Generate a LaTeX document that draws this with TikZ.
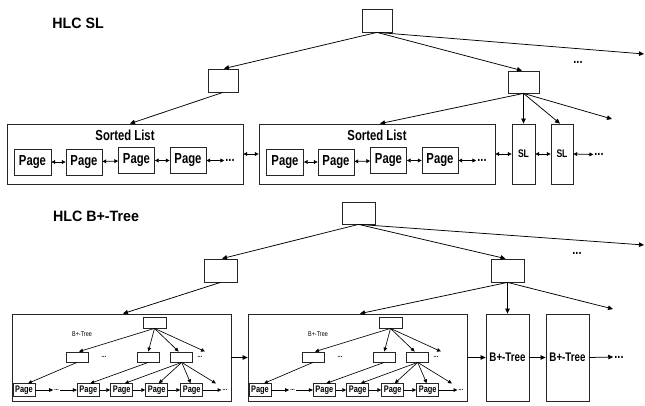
\documentclass[tikz,border=0pt]{standalone}
\usepackage{fontspec}
\setmainfont{Liberation Sans}
\newfontfamily\narf{Liberation Sans}[FakeStretch=0.78]
\newfontfamily\ttlf{Liberation Sans}[FakeStretch=0.95]
\usetikzlibrary{arrows.meta}
\tikzset{
  box/.style={draw=black!85, line width=0.8pt, inner sep=0pt, rectangle},
  bx/.style 2 args={box, minimum width=#1pt, minimum height=#2pt},
  conn/.style={line width=0.75pt, -{Triangle[length=5pt,width=4.5pt]}},
  dbl/.style={line width=0.75pt, {Triangle[length=3.8pt,width=3.8pt]}-{Triangle[length=3.8pt,width=3.8pt]}},
  sconn/.style={line width=0.65pt, -{Triangle[length=4pt,width=3.5pt]}},
  ttl/.style={inner sep=0pt, font=\ttlf\bfseries\fontsize{15}{15}\selectfont},
  lbl/.style={inner sep=0pt, font=\narf\bfseries\fontsize{14.5}{14.5}\selectfont},
  pagef/.style={font=\narf\bfseries\fontsize{14.5}{14.5}\selectfont},
  slf/.style={font=\narf\bfseries\fontsize{11}{11}\selectfont},
  btf/.style={font=\narf\bfseries\fontsize{12.5}{12.5}\selectfont},
  bdots/.style={inner sep=1pt, font=\narf\bfseries\fontsize{14}{14}\selectfont},
  ipage/.style={font=\narf\bfseries\fontsize{9.5}{9.5}\selectfont},
  ilbl/.style={inner sep=0pt, font=\narf\fontsize{7}{7}\selectfont},
  sdots/.style={inner sep=1pt, font=\narf\bfseries\fontsize{7}{7}\selectfont},
  btree/.pic={
    \node[bx={23}{11}] (-r) at (154.5,322.5) {};
    \node[ilbl] (-lab) at (82,334) {B+-Tree};
    \node[bx={22}{10}] (-a) at (77,357) {};
    \node[bx={22}{10}] (-b) at (148.3,357) {};
    \node[bx={22}{10}] (-c) at (181.7,357) {};
    \node[sdots] (-d1) at (104,357) {...};
    \node[sdots] (-d2) at (200,357) {...};
    \coordinate (-f) at (205,351.5);
    \node[bx={22}{12.5}, ipage] (-p1) at (24,390) {Page};
    \node[bx={22}{12.5}, ipage] (-p2) at (88.3,390) {Page};
    \node[bx={22}{12.5}, ipage] (-p3) at (121.7,390) {Page};
    \node[bx={22}{12.5}, ipage] (-p4) at (156.7,390) {Page};
    \node[bx={22}{12.5}, ipage] (-p5) at (191.7,390) {Page};
    \node[sdots] (-pd1) at (56.7,390) {...};
    \node[sdots] (-pd2) at (225,390) {...};
    \coordinate (-pf) at (216,383.5);
    \draw[sconn] (-r.south) -- ([xshift=2pt]-a.north);
    \draw[sconn] (-r.south) -- (-b.north);
    \draw[sconn] (-r.south) -- ([xshift=-3pt]-c.north);
    \draw[sconn] (-r.south) -- (-f);
    \draw[sconn] (-a.south) -- ([xshift=4pt]-p1.north);
    \draw[sconn] (-b.south) -- ([xshift=2pt]-p2.north);
    \draw[sconn] (-c.south) -- ([xshift=3pt]-p3.north);
    \draw[sconn] (-c.south) -- ([xshift=2pt]-p4.north);
    \draw[sconn] (-c.south) -- ([xshift=-1pt]-p5.north);
    \draw[sconn] (-c.south) -- (-pf);
    \draw[sconn] (-p1.east) -- (-pd1.west);
    \draw[sconn] (-pd1.east) -- (-p2.west);
    \draw[sconn] (-p2.east) -- (-p3.west);
    \draw[sconn] (-p3.east) -- (-p4.west);
    \draw[sconn] (-p4.east) -- (-p5.west);
    \draw[sconn] (-p5.east) -- (-pd2.west);
  }
}
\begin{document}
\begin{tikzpicture}[x=1pt,y=-1pt]
\useasboundingbox[fill=white] (0,0) rectangle (645,406);

% ---------- HLC SL ----------
\node[ttl] (t1) at (78,23.5) {HLC SL};
\node[bx={30}{23}] (rA) at (377,20.5) {};
\node[bx={30}{23}] (lA) at (223,80.5) {};
\node[bx={31}{22}] (rrA) at (523.5,82) {};
\coordinate (fA) at (644,54);
\node[bdots] (dA) at (578,62) {...};

\node[bx={236}{60}] (sl1) at (125,154) {};
\node[bx={236}{60}] (sl2) at (377,154) {};
\node[lbl] (sl1t) at (125,135) {Sorted List};
\node[lbl] (sl2t) at (377,135) {Sorted List};

\node[bx={37}{26}, pagef] (p11) at (32.5,162) {Page};
\node[bx={36}{26}, pagef] (p12) at (84,162) {Page};
\node[bx={36}{26}, pagef] (p13) at (136.5,160.5) {Page};
\node[bx={36}{26}, pagef] (p14) at (188,160.5) {Page};
\node[bdots] (d11) at (230,160.5) {...};

\node[bx={37}{26}, pagef] (p21) at (285,162) {Page};
\node[bx={36}{26}, pagef] (p22) at (336,162) {Page};
\node[bx={36}{26}, pagef] (p23) at (388.5,160.5) {Page};
\node[bx={36}{26}, pagef] (p24) at (440,160.5) {Page};
\node[bdots] (d21) at (482,160.5) {...};

\node[bx={23}{60}, slf] (s1) at (523.5,154) {SL};
\node[bx={22}{60}, slf] (s2) at (562,154) {SL};
\node[bdots] (d3) at (599,154.5) {...};
\coordinate (fA2) at (612,119);

\draw[conn] (rA.south) -- ([xshift=1pt]lA.north);
\draw[conn] (rA.south) -- ([xshift=-1.5pt]rrA.north);
\draw[conn] (rA.south) -- (fA);
\draw[conn] (lA.south) -- ([xshift=5pt]sl1.north);
\draw[conn] (rrA.south) -- ([xshift=3pt]sl2.north);
\draw[conn] (rrA.south) -- (s1.north);
\draw[conn] (rrA.south) -- ([xshift=-2pt]s2.north);
\draw[conn] (rrA.south) -- (fA2);

\draw[dbl] (p11) -- (p12);
\draw[dbl] (p12) -- (p13);
\draw[dbl] (p13) -- (p14);
\draw[dbl] (p14.east) -- (d11.west);
\draw[dbl] (p21) -- (p22);
\draw[dbl] (p22) -- (p23);
\draw[dbl] (p23) -- (p24);
\draw[dbl] (p24.east) -- (d21.west);
\draw[dbl] (sl1.east) -- (sl2.west);
\draw[dbl] (sl2.east) -- (s1.west);
\draw[dbl] (s1.east) -- (s2.west);
\draw[dbl] (s2.east) -- (d3.west);

% ---------- HLC B+-Tree ----------
\node[ttl] (t2) at (96,216) {HLC B+-Tree};
\node[bx={33}{22}] (rB) at (358.5,213) {};
\node[bx={33}{23}] (lB) at (220.5,270.5) {};
\node[bx={33}{23}] (rrB) at (507.5,270.5) {};
\coordinate (fB) at (644,245);
\node[bdots] (dB) at (577,253) {...};

\node[bx={219}{87}] (bb1) at (121.5,357.5) {};
\node[bx={219}{87}] (bb2) at (357.5,357.5) {};
\node[bx={43}{87}, btf] (bt1) at (507.5,357.5) {B+-Tree};
\node[bx={43}{87}, btf] (bt2) at (567.5,357.5) {B+-Tree};
\node[bdots] (dB2) at (619,357) {...};
\coordinate (fB2) at (613,309);

\pic (ta) at (0,0) {btree};
\pic (tb) at (236,0) {btree};

\draw[conn] (rB.south) -- ([xshift=1.5pt]lB.north);
\draw[conn] (rB.south) -- ([xshift=-2pt]rrB.north);
\draw[conn] (rB.south) -- (fB);
\draw[conn] (lB.south) -- ([xshift=1.5pt]bb1.north);
\draw[conn] (rrB.south) -- ([xshift=2.5pt]bb2.north);
\draw[conn] (rrB.south) -- (bt1.north);
\draw[conn] (rrB.south) -- (fB2);
\draw[conn] (bb1.east) -- (bb2.west);
\draw[conn] (bb2.east) -- (bt1.west);
\draw[conn] (bt1.east) -- (bt2.west);
\draw[conn] (bt2.east) -- (dB2.west);
\end{tikzpicture}
\end{document}
